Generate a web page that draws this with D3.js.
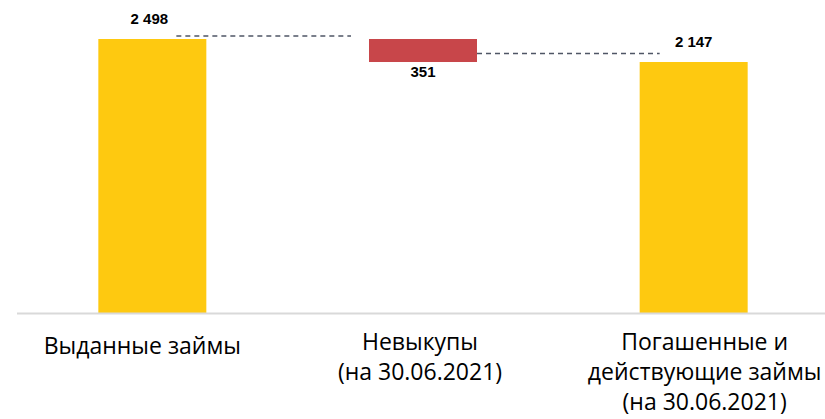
<!DOCTYPE html>
<html>
<head>
<meta charset="utf-8">
<script src="https://cdn.jsdelivr.net/npm/d3@7"></script>
<style>
  body { margin: 0; background: #fff; }
  svg { display: block; }
</style>
</head>
<body>
<svg id="viz"></svg>
<script>
const WIDTH = 825
const HEIGHT = 419

// data
const categories = ['Выданные займы', 'Невыкупы (на 30.06.2021)', 'Погашенные и действующие займы (на 30.06.2021)']
const labelLines = [
    ['Выданные займы'],
    ['Невыкупы', '(на 30.06.2021)'],
    ['Погашенные и', 'действующие займы', '(на 30.06.2021)']
]
const starts = [0, 2498, 0]
const ends = [2498, 2147, 2147]
const valueLabels = ['2 498', '351', '2 147']
const kinds = ['total', 'decrease', 'total']

const COLOR_TOTAL = '#FEC910'
const COLOR_DECREASE = '#C8464A'
const BAR_WIDTH = 108
const Y_FLOOR = -1690   // axis of the original chart does not start at zero

const x = d3.scalePoint()
    .domain(categories)
    .range([17, 829])
    .padding(0.5)

const y = d3.scaleLinear()
    .domain([Y_FLOOR, 2498])
    .range([313.5, 39])

const svg = d3.select('#viz')
    .attr('width', WIDTH)
    .attr('height', HEIGHT)

const rows = categories.map((c, i) => ({
    cat: c, start: starts[i], end: ends[i], label: valueLabels[i], kind: kinds[i], lines: labelLines[i]
}))

// bars
svg.selectAll('rect.bar')
    .data(rows)
    .enter().append('rect')
        .attr('class', 'bar')
        .attr('x', d => x(d.cat) - BAR_WIDTH / 2)
        .attr('width', BAR_WIDTH)
        .attr('y', d => d.kind === 'total' ? y(d.end) : y(Math.max(d.start, d.end)))
        .attr('height', d => d.kind === 'total'
            ? y(Y_FLOOR) - y(d.end)
            : Math.abs(y(d.start) - y(d.end)))
        .style('fill', d => d.kind === 'total' ? COLOR_TOTAL : COLOR_DECREASE)

// baseline
svg.append('line')
    .attr('x1', 17).attr('x2', WIDTH)
    .attr('y1', y(Y_FLOOR)).attr('y2', y(Y_FLOOR))
    .style('stroke', '#d9d9d9')
    .style('stroke-width', 2)

// connectors
const connectors = [
    { x1: x(categories[0]) + 24, x2: x(categories[1]) - BAR_WIDTH / 2 - 18, y: y(2498) - 3 },
    { x1: x(categories[1]) + BAR_WIDTH / 2, x2: x(categories[2]) - BAR_WIDTH / 2 + 20, y: y(2147) - 8.5 }
]
svg.selectAll('line.conn')
    .data(connectors)
    .enter().append('line')
        .attr('class', 'conn')
        .attr('x1', d => d.x1).attr('x2', d => d.x2)
        .attr('y1', d => d.y).attr('y2', d => d.y)
        .style('stroke', '#4f5666')
        .style('stroke-width', 1.5)
        .style('stroke-dasharray', '5,4')

// value labels
svg.selectAll('text.value')
    .data(rows)
    .enter().append('text')
        .attr('class', 'value')
        .attr('x', d => x(d.cat) - (d.kind === 'total' && d.end > 2400 ? 3 : 0))
        .attr('y', d => d.kind === 'decrease' ? y(d.end) + 15 : y(d.end) - 15.5)
        .attr('text-anchor', 'middle')
        .style('font-family', '"Liberation Sans", Arial, sans-serif')
        .style('font-weight', 'bold')
        .style('font-size', '15px')
        .style('fill', '#000')
        .text(d => d.label)

// category labels
const labelNudge = [-10, -3, 11]
const labelTop = [354, 350, 350]
svg.selectAll('text.cat')
    .data(rows)
    .enter().append('text')
        .attr('class', 'cat')
        .attr('text-anchor', 'middle')
        .style('font-family', '"Open Sans", sans-serif')
        .style('font-size', '23px')
        .style('fill', '#000')
        .each(function (d, i) {
            const t = d3.select(this)
            d.lines.forEach((line, j) => {
                t.append('tspan')
                    .attr('x', x(d.cat) + labelNudge[i])
                    .attr('y', labelTop[i] + j * 30)
                    .text(line)
            })
        })
</script>
</body>
</html>
